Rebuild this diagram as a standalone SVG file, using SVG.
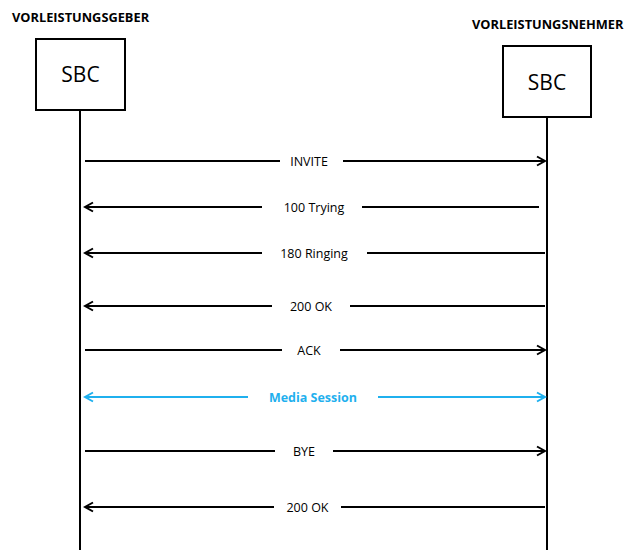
<svg xmlns="http://www.w3.org/2000/svg" width="624" height="550" viewBox="0 0 624 550">
<style>
.box{fill:#fff;stroke:#000;stroke-width:2}
.life{stroke:#000;stroke-width:2}
.msg{stroke:#000;stroke-width:2;fill:none}
.blue{stroke:#1fb0ee;stroke-width:2;fill:none}
.lbl{font-family:"Open Sans","Liberation Sans",sans-serif;font-size:12.5px;fill:#000;text-anchor:middle}
.bl{font-family:"Open Sans","Liberation Sans",sans-serif;font-size:12.5px;font-weight:bold;fill:#1fb0ee;text-anchor:middle}
.hdr{font-family:"Open Sans","Liberation Sans",sans-serif;font-size:12.8px;font-weight:bold;fill:#000}
.sbc{font-family:"Open Sans","Liberation Sans",sans-serif;font-size:21px;fill:#000;text-anchor:middle}
</style>
<defs>
<marker id="ah" markerWidth="12" markerHeight="12" refX="10" refY="6" orient="auto-start-reverse" markerUnits="userSpaceOnUse">
<path d="M2,1.5 L10,6 L2,10.5" fill="none" stroke="#000" stroke-width="2"/>
</marker>
<marker id="ahb" markerWidth="12" markerHeight="12" refX="10" refY="6" orient="auto-start-reverse" markerUnits="userSpaceOnUse">
<path d="M2,1.5 L10,6 L2,10.5" fill="none" stroke="#1fb0ee" stroke-width="2"/>
</marker>
</defs>
<g id="geber">
<text class="hdr" x="12" y="22">VORLEISTUNGSGEBER</text>
<rect class="box" x="36" y="39" width="89" height="71"/>
<text class="sbc" x="80.5" y="82">SBC</text>
<line class="life" x1="80" y1="110" x2="80" y2="550"/>
</g>
<g id="nehmer">
<text class="hdr" x="472" y="29">VORLEISTUNGSNEHMER</text>
<rect class="box" x="503" y="46" width="88" height="71"/>
<text class="sbc" x="547" y="90">SBC</text>
<line class="life" x1="547" y1="117" x2="547" y2="550"/>
</g>
<g id="connectors">
<line class="msg" x1="85" y1="161" x2="280" y2="161"/>
<line class="msg" x1="343" y1="161" x2="545" y2="161" marker-end="url(#ah)"/>
<text class="lbl" x="309" y="165.5">INVITE</text>

<line class="msg" x1="262" y1="207" x2="85" y2="207" marker-end="url(#ah)"/>
<line class="msg" x1="362" y1="207" x2="539" y2="207"/>
<text class="lbl" x="314" y="211.5">100 Trying</text>

<line class="msg" x1="262" y1="253" x2="85" y2="253" marker-end="url(#ah)"/>
<line class="msg" x1="367" y1="253" x2="545" y2="253"/>
<text class="lbl" x="314" y="257.5">180 Ringing</text>

<line class="msg" x1="272" y1="306" x2="85" y2="306" marker-end="url(#ah)"/>
<line class="msg" x1="350" y1="306" x2="545" y2="306"/>
<text class="lbl" x="311" y="310.5">200 OK</text>

<line class="msg" x1="85" y1="350" x2="282" y2="350"/>
<line class="msg" x1="340" y1="350" x2="545" y2="350" marker-end="url(#ah)"/>
<text class="lbl" x="309" y="354.5">ACK</text>

<line class="blue" x1="248" y1="397" x2="85" y2="397" marker-end="url(#ahb)"/>
<line class="blue" x1="378" y1="397" x2="545" y2="397" marker-end="url(#ahb)"/>
<text class="bl" x="313" y="401.5">Media Session</text>

<line class="msg" x1="85" y1="451" x2="275" y2="451"/>
<line class="msg" x1="333" y1="451" x2="545" y2="451" marker-end="url(#ah)"/>
<text class="lbl" x="304" y="455.5">BYE</text>

<line class="msg" x1="274" y1="507" x2="85" y2="507" marker-end="url(#ah)"/>
<line class="msg" x1="341" y1="507" x2="545" y2="507"/>
<text class="lbl" x="307.5" y="511.5">200 OK</text>
</g>
</svg>
